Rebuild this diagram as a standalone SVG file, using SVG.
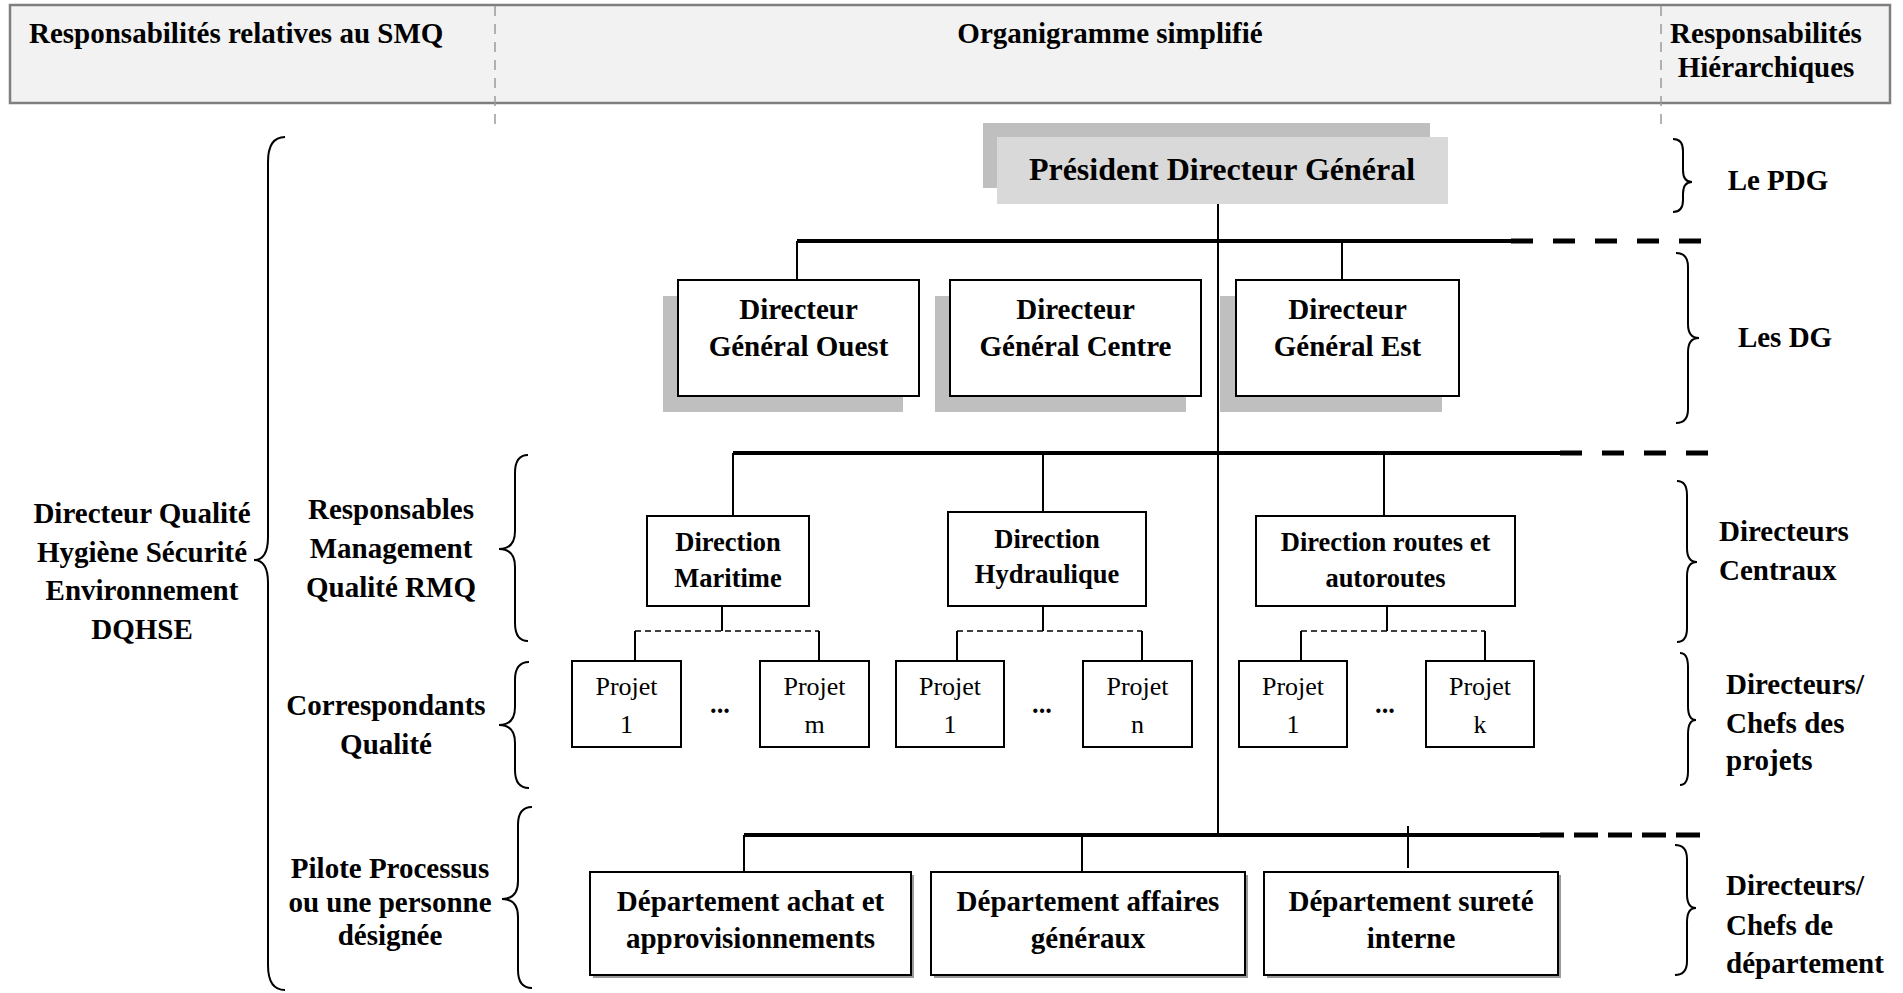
<svg xmlns="http://www.w3.org/2000/svg" width="1903" height="993" viewBox="0 0 1903 993">
  <style>
    text { font-family: "Liberation Serif", "Times New Roman", serif; fill: #000; }
    .b { font-weight: bold; }
    .h { font-size: 29px; }
    .lbl { font-size: 29px; font-weight: bold; }
    .dir { font-size: 26.5px; font-weight: bold; }
    .prj { font-size: 26px; }
    .c { text-anchor: middle; }
    .box { fill: #fff; stroke: #000; stroke-width: 2; }
    .shadow { fill: #bfbfbf; }
    .thin { stroke: #000; stroke-width: 2; fill: none; }
    .thick { stroke: #000; stroke-width: 4; fill: none; }
    .thickdash { stroke: #000; stroke-width: 5; fill: none; stroke-dasharray: 22 20; }
    .pdash { stroke: #000; stroke-width: 1.6; fill: none; stroke-dasharray: 6 4; }
    .brace { stroke: #000; stroke-width: 2; fill: none; }
    .sep { stroke: #9a9a9a; stroke-width: 1.5; stroke-dasharray: 10 8; fill: none; }
  </style>

  <!-- header band -->
  <g id="header">
    <rect x="10" y="5" width="1880" height="98" fill="#f2f2f2" stroke="#7f7f7f" stroke-width="2.5"/>
    <line class="sep" x1="495" y1="6" x2="495" y2="126"/>
    <line class="sep" x1="1661" y1="6" x2="1661" y2="126"/>
    <text class="b h" x="29" y="43">Responsabilités relatives au SMQ</text>
    <text class="b h c" x="1110" y="43">Organigramme simplifié</text>
    <text class="b h c" x="1766" y="43">Responsabilités</text>
    <text class="b h c" x="1766" y="77">Hiérarchiques</text>
  </g>

  <!-- connectors -->
  <g id="connectors">
    <!-- trunk from the PDG -->
    <line class="thin" x1="1218" y1="204" x2="1218" y2="835"/>
    <!-- level 1 : DG -->
    <line class="thick" x1="797" y1="241" x2="1511" y2="241"/>
    <line class="thickdash" x1="1511" y1="241" x2="1717" y2="241"/>
    <line class="thin" x1="797" y1="241" x2="797" y2="280"/>
    <line class="thin" x1="1342" y1="241" x2="1342" y2="280"/>
    <!-- level 2 : directions centrales -->
    <line class="thick" x1="733" y1="453" x2="1560" y2="453"/>
    <line class="thickdash" x1="1560" y1="453" x2="1717" y2="453"/>
    <line class="thin" x1="733" y1="453" x2="733" y2="516"/>
    <line class="thin" x1="1043" y1="453" x2="1043" y2="512"/>
    <line class="thin" x1="1384" y1="453" x2="1384" y2="516"/>
    <!-- projects under each direction -->
    <line class="thin" x1="722" y1="606" x2="722" y2="631"/>
    <line class="pdash" x1="635" y1="631" x2="819" y2="631"/>
    <line class="thin" x1="635" y1="631" x2="635" y2="661"/>
    <line class="thin" x1="819" y1="631" x2="819" y2="661"/>
    <line class="thin" x1="1043" y1="606" x2="1043" y2="631"/>
    <line class="pdash" x1="957" y1="631" x2="1142" y2="631"/>
    <line class="thin" x1="957" y1="631" x2="957" y2="661"/>
    <line class="thin" x1="1142" y1="631" x2="1142" y2="661"/>
    <line class="thin" x1="1387" y1="606" x2="1387" y2="631"/>
    <line class="pdash" x1="1301" y1="631" x2="1485" y2="631"/>
    <line class="thin" x1="1301" y1="631" x2="1301" y2="661"/>
    <line class="thin" x1="1485" y1="631" x2="1485" y2="661"/>
    <!-- level 3 : departments -->
    <line class="thick" x1="744" y1="835" x2="1540" y2="835"/>
    <line class="thickdash" x1="1540" y1="835" x2="1705" y2="835" style="stroke-dasharray: 24 10"/>
    <line class="thin" x1="744" y1="835" x2="744" y2="872"/>
    <line class="thin" x1="1082" y1="835" x2="1082" y2="872"/>
    <line class="thin" x1="1408" y1="826" x2="1408" y2="868"/>
  </g>

  <!-- PDG -->
  <g id="pdg">
    <rect x="983" y="123" width="447" height="65" fill="#bfbfbf"/>
    <rect x="997" y="137" width="451" height="67" fill="#d9d9d9"/>
    <text class="b c" x="1222" y="180" font-size="32">Président Directeur Général</text>
  </g>

  <!-- DG -->
  <g id="dg-ouest">
    <rect class="shadow" x="663" y="296" width="240" height="116"/>
    <rect class="box" x="678" y="280" width="241" height="116"/>
    <text class="lbl c" x="798.5" y="319">Directeur</text>
    <text class="lbl c" x="798.5" y="356">Général Ouest</text>
  </g>
  <g id="dg-centre">
    <rect class="shadow" x="935" y="296" width="251" height="116"/>
    <rect class="box" x="950" y="280" width="251" height="116"/>
    <text class="lbl c" x="1075.5" y="319">Directeur</text>
    <text class="lbl c" x="1075.5" y="356">Général Centre</text>
  </g>
  <g id="dg-est">
    <rect class="shadow" x="1220" y="296" width="222" height="116"/>
    <rect class="box" x="1236" y="280" width="223" height="116"/>
    <text class="lbl c" x="1347.5" y="319">Directeur</text>
    <text class="lbl c" x="1347.5" y="356">Général Est</text>
  </g>

  <!-- directions centrales -->
  <g id="dir-maritime">
    <rect class="box" x="647" y="516" width="162" height="90"/>
    <text class="dir c" x="728" y="551">Direction</text>
    <text class="dir c" x="728" y="587">Maritime</text>
  </g>
  <g id="dir-hydraulique">
    <rect class="box" x="948" y="512" width="198" height="94"/>
    <text class="dir c" x="1047" y="548">Direction</text>
    <text class="dir c" x="1047" y="583">Hydraulique</text>
  </g>
  <g id="dir-routes">
    <rect class="box" x="1256" y="516" width="259" height="90"/>
    <text class="dir c" x="1385.5" y="551">Direction routes et</text>
    <text class="dir c" x="1385.5" y="587">autoroutes</text>
  </g>

  <!-- projects -->
  <g id="projet-m1">
    <rect class="box" x="572" y="661" width="109" height="86"/>
    <text class="prj c" x="626.5" y="695">Projet</text>
    <text class="prj c" x="626.5" y="733">1</text>
  </g>
  <g id="dots-m"><text class="dir c" x="720" y="713">...</text></g>
  <g id="projet-mm">
    <rect class="box" x="760" y="661" width="109" height="86"/>
    <text class="prj c" x="814.5" y="695">Projet</text>
    <text class="prj c" x="814.5" y="733">m</text>
  </g>
  <g id="projet-h1">
    <rect class="box" x="896" y="661" width="108" height="86"/>
    <text class="prj c" x="950" y="695">Projet</text>
    <text class="prj c" x="950" y="733">1</text>
  </g>
  <g id="dots-h"><text class="dir c" x="1042" y="713">...</text></g>
  <g id="projet-hn">
    <rect class="box" x="1083" y="661" width="109" height="86"/>
    <text class="prj c" x="1137.5" y="695">Projet</text>
    <text class="prj c" x="1137.5" y="733">n</text>
  </g>
  <g id="projet-r1">
    <rect class="box" x="1239" y="661" width="108" height="86"/>
    <text class="prj c" x="1293" y="695">Projet</text>
    <text class="prj c" x="1293" y="733">1</text>
  </g>
  <g id="dots-r"><text class="dir c" x="1385" y="713">...</text></g>
  <g id="projet-rk">
    <rect class="box" x="1426" y="661" width="108" height="86"/>
    <text class="prj c" x="1480" y="695">Projet</text>
    <text class="prj c" x="1480" y="733">k</text>
  </g>

  <!-- departments -->
  <g id="dep-achat">
    <rect x="593" y="875" width="321" height="103" fill="#9a9a9a"/>
    <rect class="box" x="590" y="872" width="321" height="103"/>
    <text class="lbl c" x="750.5" y="911">Département achat et</text>
    <text class="lbl c" x="750.5" y="948">approvisionnements</text>
  </g>
  <g id="dep-affaires">
    <rect x="934" y="875" width="314" height="103" fill="#9a9a9a"/>
    <rect class="box" x="931" y="872" width="314" height="103"/>
    <text class="lbl c" x="1088" y="911">Département affaires</text>
    <text class="lbl c" x="1088" y="948">généraux</text>
  </g>
  <g id="dep-surete">
    <rect x="1267" y="875" width="294" height="103" fill="#9a9a9a"/>
    <rect class="box" x="1264" y="872" width="294" height="103"/>
    <text class="lbl c" x="1411" y="911">Département sureté</text>
    <text class="lbl c" x="1411" y="948">interne</text>
  </g>

  <!-- SMQ responsibilities (left) -->
  <g id="smq-dqhse">
    <path class="brace" d="M285 137 Q268 137 268 162 V537 Q268 560 254 560 Q268 560 268 583 V965 Q268 990 285 990"/>
    <text class="lbl c" x="142" y="523">Directeur Qualité</text>
    <text class="lbl c" x="142" y="562">Hygiène Sécurité</text>
    <text class="lbl c" x="142" y="600">Environnement</text>
    <text class="lbl c" x="142" y="639">DQHSE</text>
  </g>
  <g id="smq-rmq">
    <path class="brace" d="M528 455 Q515 455 515 473 V531 Q515 549 499 549 Q515 549 515 567 V623 Q515 641 528 641"/>
    <text class="lbl c" x="391" y="519">Responsables</text>
    <text class="lbl c" x="391" y="558">Management</text>
    <text class="lbl c" x="391" y="597">Qualité RMQ</text>
  </g>
  <g id="smq-correspondants">
    <path class="brace" d="M529 662 Q515 662 515 680 V707 Q515 725 499 725 Q515 725 515 743 V770 Q515 788 529 788"/>
    <text class="lbl c" x="386" y="715">Correspondants</text>
    <text class="lbl c" x="386" y="754">Qualité</text>
  </g>
  <g id="smq-pilote">
    <path class="brace" d="M532 807 Q518 807 518 825 V881 Q518 899 502 899 Q518 899 518 917 V970 Q518 988 532 988"/>
    <text class="lbl c" x="390" y="878">Pilote Processus</text>
    <text class="lbl c" x="390" y="912">ou une personne</text>
    <text class="lbl c" x="390" y="945">désignée</text>
  </g>

  <!-- hierarchical responsibilities (right) -->
  <g id="hier-pdg">
    <path class="brace" d="M1673 139 Q1683 139 1683 151 V170 Q1683 182 1692 182 Q1683 182 1683 194 V200 Q1683 212 1673 212"/>
    <text class="lbl c" x="1778" y="190">Le PDG</text>
  </g>
  <g id="hier-dg">
    <path class="brace" d="M1676 253 Q1688 253 1688 267 V324 Q1688 338 1699 338 Q1688 338 1688 352 V409 Q1688 423 1676 423"/>
    <text class="lbl c" x="1785" y="347">Les DG</text>
  </g>
  <g id="hier-centraux">
    <path class="brace" d="M1677 481 Q1687 481 1687 495 V548 Q1687 562 1697 562 Q1687 562 1687 576 V628 Q1687 642 1677 642"/>
    <text class="lbl" x="1719" y="541">Directeurs</text>
    <text class="lbl" x="1719" y="580">Centraux</text>
  </g>
  <g id="hier-projets">
    <path class="brace" d="M1680 653 Q1688 653 1688 667 V706 Q1688 720 1696 720 Q1688 720 1688 734 V771 Q1688 785 1680 785"/>
    <text class="lbl" x="1726" y="694">Directeurs/</text>
    <text class="lbl" x="1726" y="733">Chefs des</text>
    <text class="lbl" x="1726" y="770">projets</text>
  </g>
  <g id="hier-departement">
    <path class="brace" d="M1675 845 Q1687 845 1687 859 V894 Q1687 908 1696 908 Q1687 908 1687 922 V961 Q1687 975 1675 975"/>
    <text class="lbl" x="1726" y="895">Directeurs/</text>
    <text class="lbl" x="1726" y="935">Chefs de</text>
    <text class="lbl" x="1726" y="973">département</text>
  </g>
</svg>
